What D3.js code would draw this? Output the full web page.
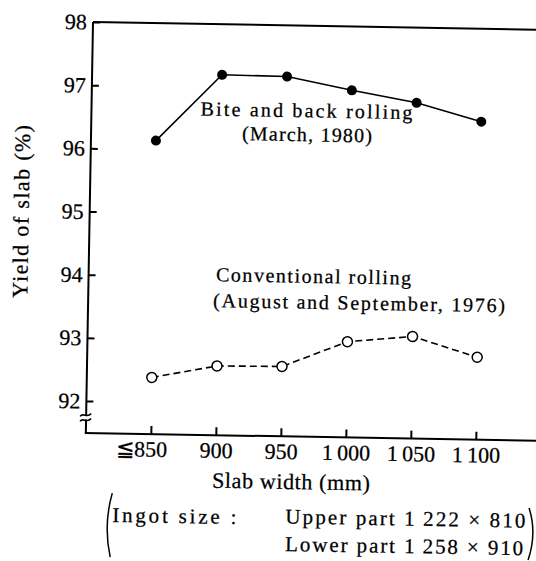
<!DOCTYPE html>
<html><head><meta charset="utf-8">
<script src="https://cdn.jsdelivr.net/npm/d3@7"></script>
<style>
html,body{margin:0;padding:0;background:#fff;}
svg{display:block;}
text{font-family:"Liberation Serif","DejaVu Serif",serif;fill:#000;stroke:#000;stroke-width:0.25px;}
</style></head><body>
<svg id="chart" width="536" height="561"></svg>
<script>
// ---- data ----
const widths = [850, 900, 950, 1000, 1050, 1100];
const xTickLabels = ["\u2266850", "900", "950", "1\u2009000", "1\u2009050", "1\u2009100"];
const biteBack = [96.14, 97.20, 97.19, 96.99, 96.81, 96.53];
const conventional = [92.39, 92.59, 92.60, 93.01, 93.11, 92.80];
const yTicks = [92, 93, 94, 95, 96, 97, 98];
const biteLabel = ["Bite and back rolling", "(March, 1980)"];
const convLabel = ["Conventional rolling", "(August and September, 1976)"];
const yTitle = "Yield of slab (%)";
const xTitle = "Slab width (mm)";
const ingotLead = "Ingot size :";
const ingotLines = ["Upper part 1\u2009222 \u00d7 810", "Lower part 1\u2009258 \u00d7 910"];

// ---- layout ----
const svg = d3.select("#chart");
const ox = 93, oy = 22, yBottom = 433, rightEnd = 620;
const g = svg.append("g").attr("transform", `rotate(1 ${ox} ${oy})`);
const x = d3.scaleLinear().domain([800, 1160]).range([93, 561]);
const y = d3.scaleLinear().domain([92, 98]).range([401, 22]);
const FS = 22, LFS = 20;

// frame lines
g.append("line").attr("x1", ox).attr("y1", oy).attr("x2", rightEnd).attr("y2", oy)
  .attr("stroke", "#000").attr("stroke-width", 2);
g.append("line").attr("x1", ox).attr("y1", oy).attr("x2", ox).attr("y2", yBottom)
  .attr("stroke", "#000").attr("stroke-width", 2);
g.append("line").attr("x1", ox - 1).attr("y1", yBottom).attr("x2", rightEnd).attr("y2", yBottom)
  .attr("stroke", "#000").attr("stroke-width", 2);

// axis break
const by = 417.5;
g.append("rect").attr("x", ox - 3).attr("y", by - 2).attr("width", 6).attr("height", 4).attr("fill", "#fff");
[-2.5, 2.5].forEach(o => {
  g.append("path")
    .attr("d", `M${ox - 6},${by + o + 1.5} C${ox - 3},${by + o - 3} ${ox + 1},${by + o + 4} ${ox + 5},${by + o - 1.5}`)
    .attr("fill", "none").attr("stroke", "#000").attr("stroke-width", 1.6);
});

// y axis
const ya = g.append("g").attr("transform", `translate(${ox},0)`)
  .call(d3.axisLeft(y).tickValues(yTicks).tickFormat(d3.format("d"))
    .tickSizeInner(-7).tickSizeOuter(0).tickPadding(6));
ya.attr("font-family", null).attr("font-size", null);
ya.select(".domain").remove();
ya.selectAll("line").attr("stroke", "#000").attr("stroke-width", 2);
ya.selectAll("text").style("font-size", FS + "px");

// x axis
const xa = g.append("g").attr("transform", `translate(0,${yBottom})`)
  .call(d3.axisBottom(x).tickValues(widths).tickFormat((d, i) => xTickLabels[i])
    .tickSizeInner(-8).tickSizeOuter(0).tickPadding(7));
xa.attr("font-family", null).attr("font-size", null);
xa.select(".domain").remove();
xa.selectAll("line").attr("stroke", "#000").attr("stroke-width", 2);
xa.selectAll("text").style("font-size", FS + "px");
xa.selectAll("text").filter((d, i) => i === 0).attr("text-anchor", "end").attr("x", 16);

// series
const line = d3.line().x((d, i) => x(widths[i])).y(d => y(d));
g.append("path").datum(biteBack).attr("d", line)
  .attr("fill", "none").attr("stroke", "#000").attr("stroke-width", 1.6);
g.append("path").datum(conventional).attr("d", line)
  .attr("fill", "none").attr("stroke", "#000").attr("stroke-width", 1.6)
  .attr("stroke-dasharray", "7,4");
g.selectAll("circle.filled").data(biteBack).join("circle").attr("class", "filled")
  .attr("cx", (d, i) => x(widths[i])).attr("cy", d => y(d)).attr("r", 5).attr("fill", "#000");
g.selectAll("circle.open").data(conventional).join("circle").attr("class", "open")
  .attr("cx", (d, i) => x(widths[i])).attr("cy", d => y(d)).attr("r", 5)
  .attr("fill", "#fff").attr("stroke", "#000").attr("stroke-width", 1.5);

// labels
function label(txt, cx, cy, len, anchor, fs) {
  return g.append("text").attr("x", cx).attr("y", cy).attr("text-anchor", anchor || "middle")
    .attr("textLength", len).attr("lengthAdjust", "spacing")
    .style("font-size", (fs || FS) + "px").text(txt);
}
label(biteLabel[0], 308, 113.5, 212, "middle", LFS);
label(biteLabel[1], 309, 137.5, 130, "middle", LFS);
label(convLabel[0], 318, 279, 195, "middle", LFS);
label(convLabel[1], 364, 305, 292, "middle", LFS);
label(xTitle, 299, 485.5, 158);
g.append("text").attr("transform", "translate(32,212.7) rotate(-90)")
  .attr("text-anchor", "middle").attr("textLength", 173).attr("lengthAdjust", "spacing")
  .style("font-size", FS + "px").text(yTitle);

// ingot note
label(ingotLead, 121, 521.5, 124, "start", 21);
label(ingotLines[0], 294, 520, 240, "start", 21);
label(ingotLines[1], 294.3, 547.5, 238, "start", 21);
g.append("path").attr("d", "M120.5,492.7 Q112,524.8 119.5,556.7")
  .attr("fill", "none").attr("stroke", "#000").attr("stroke-width", 1.5);
g.append("path").attr("d", "M537.5,500.4 Q546,525.3 537.4,552.4")
  .attr("fill", "none").attr("stroke", "#000").attr("stroke-width", 1.5);
</script>
</body></html>
